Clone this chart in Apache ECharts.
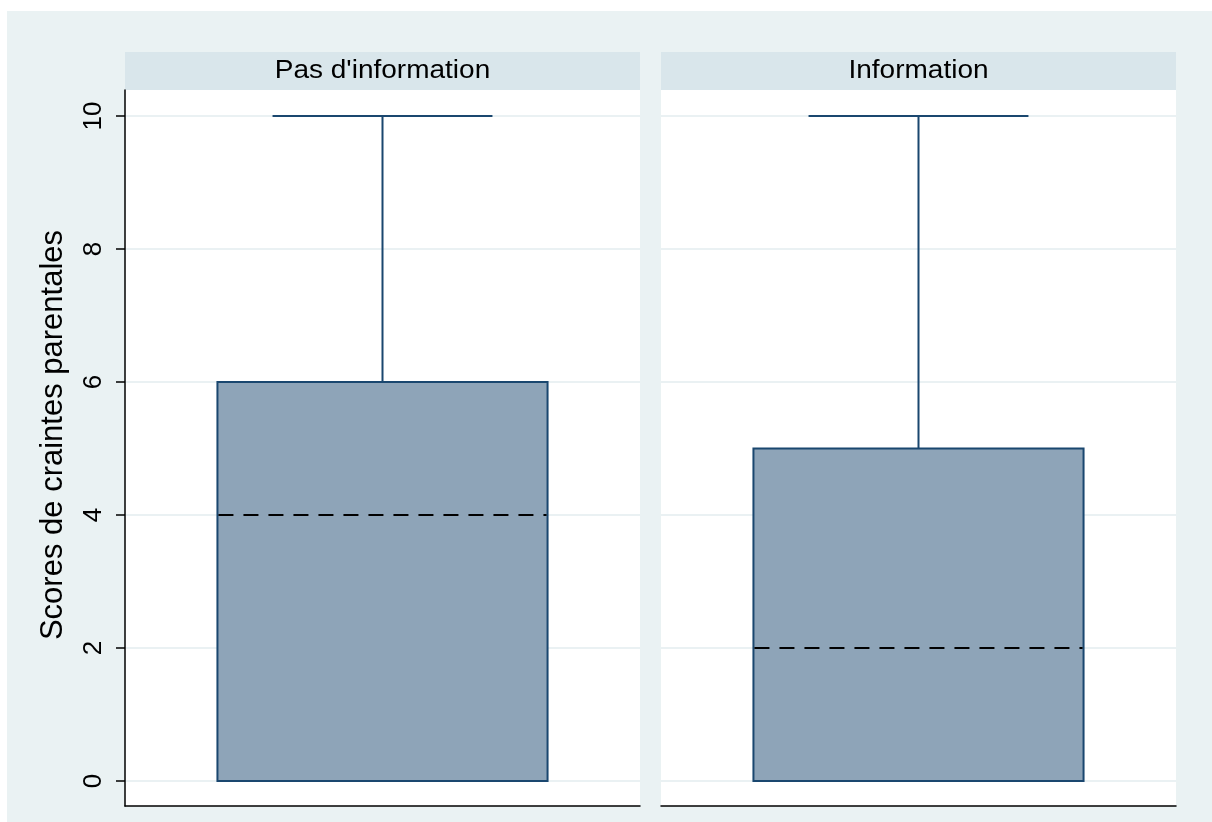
<!DOCTYPE html>
<html>
<head>
<meta charset="utf-8">
<script src="https://cdn.jsdelivr.net/npm/echarts@6/dist/echarts.min.js"></script>
<style>
html,body{margin:0;padding:0;background:#fff;}
#chart{width:1212px;height:822px;}
</style>
</head>
<body>
<div id="chart"></div>
<script>
// ---- data ----
const categories = ["Pas d'information", "Information"];
const minVals = [0, 0];
const q1Vals = [0, 0];
const medianVals = [4, 2];
const q3Vals = [6, 5];
const maxVals = [10, 10];
const yTickMin = 0;
const yTickMax = 10;
const yTickStep = 2;
const yTitle = "Scores de craintes parentales";

// ---- style ----
const FONT = "'Liberation Sans', Arial, Helvetica, sans-serif";
const BOX_FILL = '#8EA4B8';
const LINE_COL = '#1A476F';
const OUTER_BG = '#EAF2F3';
const HEADER_BG = '#D9E6EB';
const GRID_COL = '#EAF1F3';

const panelLeft = [125, 661];
const panelWidth = 515;
const frameTop = 90, frameBottom = 806;
const dataTop = 116, dataBottom = 781;

const chart = echarts.init(document.getElementById('chart'), null, {renderer: 'canvas'});

function renderBox(params, api) {
  const cx = api.value(0);
  const lo = api.coord([cx, api.value(1)]);
  const q1 = api.coord([cx, api.value(2)]);
  const med = api.coord([cx, api.value(3)]);
  const q3 = api.coord([cx, api.value(4)]);
  const hi = api.coord([cx, api.value(5)]);
  const band = api.size([1, 0])[0];
  const bw = band * 0.641;
  const cw = band * 0.427;
  const x = lo[0];
  return {
    type: 'group',
    children: [
      {type: 'line', shape: {x1: x, y1: q3[1], x2: x, y2: hi[1]}, style: {stroke: LINE_COL, lineWidth: 2}},
      {type: 'line', shape: {x1: x - cw / 2, y1: hi[1], x2: x + cw / 2, y2: hi[1]}, style: {stroke: LINE_COL, lineWidth: 2}},
      {type: 'line', shape: {x1: x, y1: q1[1], x2: x, y2: lo[1]}, style: {stroke: LINE_COL, lineWidth: 2}},
      {type: 'line', shape: {x1: x - cw / 2, y1: lo[1], x2: x + cw / 2, y2: lo[1]}, style: {stroke: LINE_COL, lineWidth: 2}},
      {type: 'rect', shape: {x: x - bw / 2, y: q3[1], width: bw, height: q1[1] - q3[1]},
        style: {fill: BOX_FILL, stroke: LINE_COL, lineWidth: 2}},
      {type: 'line', shape: {x1: x - bw / 2 + 1, y1: med[1], x2: x + bw / 2 - 1, y2: med[1]},
        style: {stroke: '#000', lineWidth: 2, lineDash: [15, 10]}}
    ]
  };
}

const grids = [];
const xAxes = [];
const yAxes = [];
const series = [];

// main data grids (0,1)
for (let i = 0; i < 2; i++) {
  grids.push({left: panelLeft[i], width: panelWidth, top: dataTop, height: dataBottom - dataTop, containLabel: false});
  xAxes.push({type: 'category', gridIndex: i, data: [categories[i]], show: false});
  yAxes.push({
    type: 'value', gridIndex: i, min: yTickMin, max: yTickMax, interval: yTickStep,
    axisLine: {show: false},
    axisTick: {show: i === 0, length: 9, lineStyle: {color: '#000', width: 1.5}},
    axisLabel: {show: i === 0, rotate: 90, margin: 18, fontSize: 26, color: '#000', fontFamily: FONT},
    splitLine: {show: true, lineStyle: {color: GRID_COL, width: 2}}
  });
  series.push({
    type: 'custom', xAxisIndex: i, yAxisIndex: i,
    renderItem: renderBox,
    data: [[0, minVals[i], q1Vals[i], medianVals[i], q3Vals[i], maxVals[i]]],
    z: 5
  });
}
// frame grids (2,3)
for (let i = 0; i < 2; i++) {
  grids.push({left: panelLeft[i], width: panelWidth, top: frameTop, height: frameBottom - frameTop});
  xAxes.push({type: 'value', gridIndex: 2 + i, min: 0, max: 1, position: 'bottom',
    axisLine: {show: true, onZero: false, lineStyle: {color: '#000', width: 1.5}},
    axisTick: {show: false}, axisLabel: {show: false}, splitLine: {show: false}});
  yAxes.push({type: 'value', gridIndex: 2 + i, min: 0, max: 1, position: 'left',
    axisLine: {show: i === 0, onZero: false, lineStyle: {color: '#000', width: 1.5}},
    axisTick: {show: false}, axisLabel: {show: false}, splitLine: {show: false}});
}

const graphics = [
  {type: 'rect', z: -10, shape: {x: 7, y: 11, width: 1205, height: 811}, style: {fill: OUTER_BG}},
];
for (let i = 0; i < 2; i++) {
  graphics.push({type: 'rect', z: -9, shape: {x: panelLeft[i], y: frameTop, width: panelWidth, height: frameBottom - frameTop}, style: {fill: '#fff'}});
  graphics.push({type: 'rect', z: -9, shape: {x: panelLeft[i], y: 52, width: panelWidth, height: 38}, style: {fill: HEADER_BG}});
  graphics.push({type: 'text', z: 10, x: panelLeft[i] + panelWidth / 2, y: 71, scaleX: 1.12,
    style: {text: categories[i], fontSize: 25, fontFamily: FONT, fill: '#000', align: 'center', verticalAlign: 'middle', textAlign: 'center', textVerticalAlign: 'middle'}});
}
graphics.push({type: 'text', z: 10, x: 53, y: 435, rotation: Math.PI / 2,
  style: {text: yTitle, fontSize: 31, fontFamily: FONT, fill: '#000', align: 'center', verticalAlign: 'middle', textAlign: 'center', textVerticalAlign: 'middle'}});

chart.setOption({
  backgroundColor: '#fff',
  animation: false,
  textStyle: {fontFamily: FONT},
  graphic: graphics,
  grid: grids,
  xAxis: xAxes,
  yAxis: yAxes,
  series: series
});
</script>
</body>
</html>
